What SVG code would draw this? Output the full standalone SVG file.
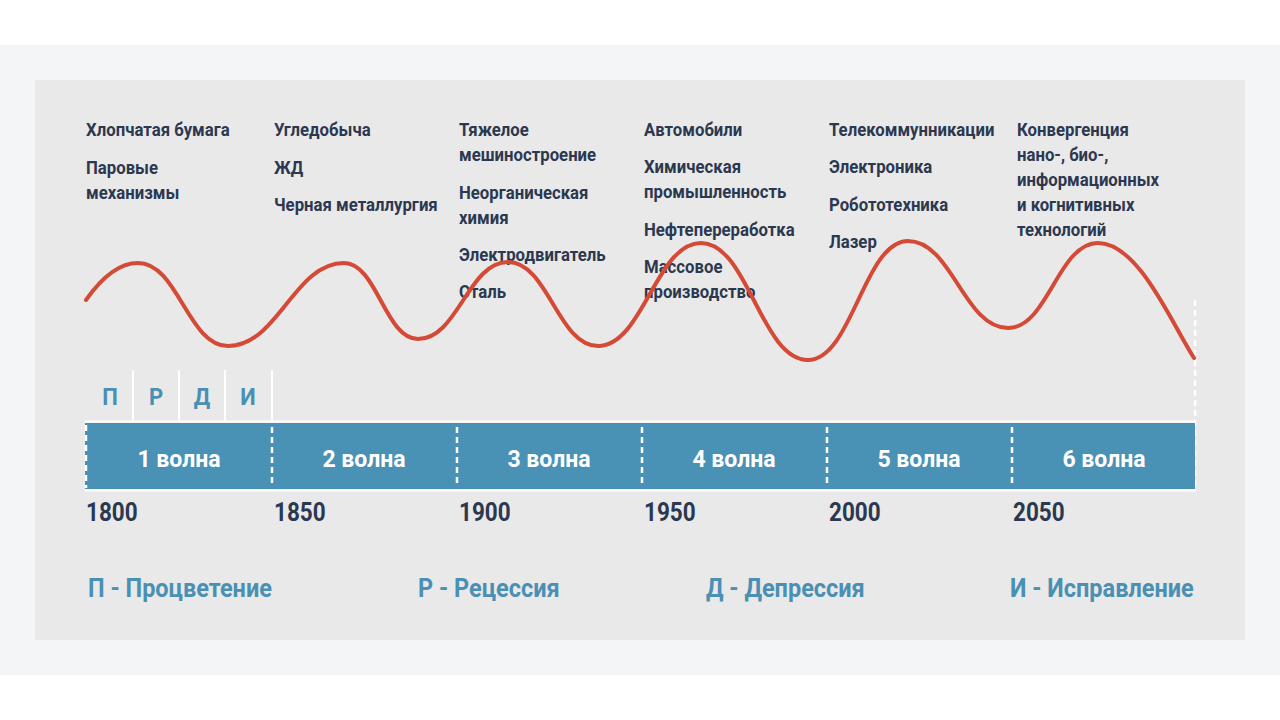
<svg xmlns="http://www.w3.org/2000/svg" width="1280" height="720" viewBox="0 0 1280 720">
<style>
.tech{font-family:"Roboto","Liberation Sans",sans-serif;font-weight:700;font-size:18px;fill:#2b3850}
.year{font-family:"Roboto","Liberation Sans",sans-serif;font-weight:700;font-size:25px;fill:#2b3850}
.wave{font-family:"Roboto","Liberation Sans",sans-serif;font-weight:700;font-size:24px;fill:#ffffff;text-anchor:middle}
.phase{font-family:"Roboto","Liberation Sans",sans-serif;font-weight:700;font-size:24px;fill:#4a8fb4;text-anchor:middle}
.legend{font-family:"Roboto","Liberation Sans",sans-serif;font-weight:700;font-size:25px;fill:#4a8fb4}
.sep{stroke:#ffffff;stroke-width:2.5;stroke-dasharray:6 4;fill:none}
.thin{stroke:#ffffff;stroke-width:2;fill:none}
</style>
<rect x="0" y="0" width="1280" height="720" fill="#ffffff"/>
<rect x="0" y="45" width="1280" height="630" fill="#f4f5f6"/>
<rect x="35" y="80" width="1210" height="560" fill="#e9e9e9"/>

<g id="col1">
<text class="tech" transform="translate(86,136) scale(0.93,1)">Хлопчатая бумага</text>
<text class="tech" transform="translate(86,174) scale(0.93,1)">Паровые</text>
<text class="tech" transform="translate(86,199) scale(0.93,1)">механизмы</text>
</g>
<g id="col2">
<text class="tech" transform="translate(274,136) scale(0.93,1)">Угледобыча</text>
<text class="tech" transform="translate(274,173.5) scale(0.93,1)">ЖД</text>
<text class="tech" transform="translate(274,211) scale(0.93,1)">Черная металлургия</text>
</g>
<g id="col3">
<text class="tech" transform="translate(459,136) scale(0.93,1)">Тяжелое</text>
<text class="tech" transform="translate(459,161) scale(0.93,1)">мешиностроение</text>
<text class="tech" transform="translate(459,198.5) scale(0.93,1)">Неорганическая</text>
<text class="tech" transform="translate(459,223.5) scale(0.93,1)">химия</text>
<text class="tech" transform="translate(459,261) scale(0.93,1)">Электродвигатель</text>
<text class="tech" transform="translate(459,298) scale(0.93,1)">Сталь</text>
</g>
<g id="col4">
<text class="tech" transform="translate(644,136) scale(0.93,1)">Автомобили</text>
<text class="tech" transform="translate(644,173) scale(0.93,1)">Химическая</text>
<text class="tech" transform="translate(644,198) scale(0.93,1)">промышленность</text>
<text class="tech" transform="translate(644,235.5) scale(0.93,1)">Нефтепереработка</text>
<text class="tech" transform="translate(644,273) scale(0.93,1)">Массовое</text>
<text class="tech" transform="translate(644,298) scale(0.93,1)">производство</text>
</g>
<g id="col5">
<text class="tech" transform="translate(829,136) scale(0.93,1)">Телекоммунникации</text>
<text class="tech" transform="translate(829,173) scale(0.93,1)">Электроника</text>
<text class="tech" transform="translate(829,210.5) scale(0.93,1)">Робототехника</text>
<text class="tech" transform="translate(829,247.5) scale(0.93,1)">Лазер</text>
</g>
<g id="col6">
<text class="tech" transform="translate(1017,136) scale(0.93,1)">Конвергенция</text>
<text class="tech" transform="translate(1017,161) scale(0.93,1)">нано-, био-,</text>
<text class="tech" transform="translate(1017,186) scale(0.93,1)">информационных</text>
<text class="tech" transform="translate(1017,211) scale(0.93,1)">и когнитивных</text>
<text class="tech" transform="translate(1017,236) scale(0.93,1)">технологий</text>
</g>

<g id="phases">
<line class="thin" x1="133" y1="370" x2="133" y2="421"/>
<line class="thin" x1="179" y1="370" x2="179" y2="421"/>
<line class="thin" x1="225" y1="370" x2="225" y2="421"/>
<line class="thin" x1="272" y1="370" x2="272" y2="421"/>
<text class="phase" transform="translate(110,405) scale(0.92,1)">П</text>
<text class="phase" transform="translate(156,405) scale(0.92,1)">Р</text>
<text class="phase" transform="translate(202,405) scale(0.92,1)">Д</text>
<text class="phase" transform="translate(248,405) scale(0.92,1)">И</text>
</g>

<g id="timeline">
<line class="sep" x1="1195" y1="300" x2="1195" y2="491"/>
<rect x="85" y="423" width="1110" height="66" fill="#4a91b6"/>
<line class="thin" x1="85" y1="421.5" x2="1196" y2="421.5"/>
<line class="thin" x1="85" y1="490.5" x2="1196" y2="490.5"/>
<line class="sep" x1="86" y1="425" x2="86" y2="488"/>
<line class="sep" x1="272" y1="427" x2="272" y2="486"/>
<line class="sep" x1="457" y1="427" x2="457" y2="486"/>
<line class="sep" x1="642" y1="427" x2="642" y2="486"/>
<line class="sep" x1="827" y1="427" x2="827" y2="486"/>
<line class="sep" x1="1012" y1="427" x2="1012" y2="486"/>
<text class="wave" transform="translate(179,467) scale(0.96,1)">1 волна</text>
<text class="wave" transform="translate(364,467) scale(0.96,1)">2 волна</text>
<text class="wave" transform="translate(549,467) scale(0.96,1)">3 волна</text>
<text class="wave" transform="translate(734,467) scale(0.96,1)">4 волна</text>
<text class="wave" transform="translate(919,467) scale(0.96,1)">5 волна</text>
<text class="wave" transform="translate(1104,467) scale(0.96,1)">6 волна</text>
</g>

<g id="years">
<text class="year" transform="translate(86,521) scale(0.9,1)">1800</text>
<text class="year" transform="translate(274,521) scale(0.9,1)">1850</text>
<text class="year" transform="translate(459,521) scale(0.9,1)">1900</text>
<text class="year" transform="translate(644,521) scale(0.9,1)">1950</text>
<text class="year" transform="translate(829,521) scale(0.9,1)">2000</text>
<text class="year" transform="translate(1013,521) scale(0.9,1)">2050</text>
</g>

<g id="connectors">
<path d="M86,300 C100,280 118,263 138,263 C178,263 188,346 228,346 C278,346 294,263 344,263 C377,263 385,339 418,339 C458,339 468,262 508,262 C548,262 558,346 598,346 C643,346 656,243 701,243 C748,243 761,360 808,360 C852,360 864,241 908,241 C952,241 964,328 1008,328 C1048,328 1058,243 1098,243 C1138,243 1170,320 1194,358" fill="none" stroke="#d44a36" stroke-width="4" stroke-linecap="round"/>
</g>

<g id="legend">
<text class="legend" transform="translate(88,597) scale(0.94,1)">П - Процветение</text>
<text class="legend" transform="translate(418,597) scale(0.94,1)">Р - Рецессия</text>
<text class="legend" transform="translate(706,597) scale(0.94,1)">Д - Депрессия</text>
<text class="legend" transform="translate(1010,597) scale(0.94,1)">И - Исправление</text>
</g>
</svg>
